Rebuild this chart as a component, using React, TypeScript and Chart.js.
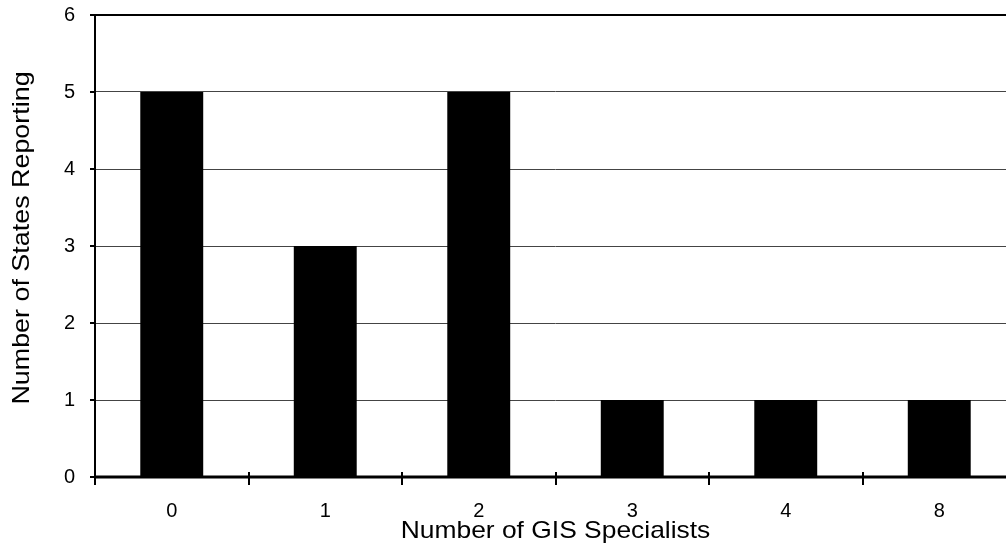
import React, { useEffect, useRef } from "react";
import { Chart, registerables } from "chart.js";

Chart.register(...registerables);

const categories = ["0", "1", "2", "3", "4", "8"];
const statesReporting = [5, 3, 5, 1, 1, 1];
const yTicks = [0, 1, 2, 3, 4, 5, 6];
const xTitle = "Number of GIS Specialists";
const yTitle = "Number of States Reporting";

const FONT = "'Liberation Sans', Arial, sans-serif";

const framePlugin = {
  id: "frame",
  afterDraw(chart: any) {
    const { ctx, chartArea, scales } = chart;
    const x = scales.x;
    const y = scales.y;
    ctx.save();
    ctx.strokeStyle = "#000";
    // top border
    ctx.lineWidth = 2;
    ctx.beginPath();
    ctx.moveTo(chartArea.left, chartArea.top);
    ctx.lineTo(chartArea.right, chartArea.top);
    ctx.stroke();
    // y axis line (extends below)
    ctx.beginPath();
    ctx.moveTo(chartArea.left, chartArea.top - 1);
    ctx.lineTo(chartArea.left, chartArea.bottom + 8);
    ctx.stroke();
    // x axis line
    ctx.lineWidth = 3;
    ctx.beginPath();
    ctx.moveTo(chartArea.left, chartArea.bottom);
    ctx.lineTo(chartArea.right, chartArea.bottom);
    ctx.stroke();
    // x ticks at category boundaries, crossing axis
    ctx.lineWidth = 2;
    const n = categories.length;
    const step = (chartArea.right - chartArea.left) / n;
    for (let i = 1; i <= n; i++) {
      const px = Math.round(x.getPixelForValue(i - 1) + step / 2);
      ctx.beginPath();
      ctx.moveTo(px, chartArea.bottom - 5);
      ctx.lineTo(px, chartArea.bottom + 8);
      ctx.stroke();
    }
    // y ticks outward
    for (const v of yTicks) {
      const py = y.getPixelForValue(v);
      ctx.beginPath();
      ctx.moveTo(chartArea.left - 5, py);
      ctx.lineTo(chartArea.left, py);
      ctx.stroke();
    }
    // titles
    ctx.fillStyle = "#000";
    ctx.font = `24px ${FONT}`;
    ctx.textAlign = "center";
    ctx.textBaseline = "middle";
    ctx.save();
    ctx.translate((chartArea.left + chartArea.right) / 2, 531);
    ctx.scale(1.1, 1);
    ctx.fillText(xTitle, 0, 0);
    ctx.restore();
    ctx.translate(22, 238);
    ctx.rotate(-Math.PI / 2);
    ctx.scale(1.12, 1);
    ctx.fillText(yTitle, 0, 0);
    ctx.restore();
  },
};

export default function App() {
  const ref = useRef<HTMLCanvasElement>(null);
  useEffect(() => {
    document.body.style.margin = "0";
    document.body.style.overflow = "hidden";
    const chart = new Chart(ref.current!, {
      type: "bar",
      data: {
        labels: categories,
        datasets: [
          {
            data: statesReporting,
            backgroundColor: "#000",
            borderWidth: 0,
            barPercentage: 0.41,
            categoryPercentage: 1,
          },
        ],
      },
      options: {
        animation: false,
        responsive: false,
        maintainAspectRatio: false,
        layout: { padding: { top: 15, right: 10, left: 0, bottom: 0 } },
        plugins: { legend: { display: false }, tooltip: { enabled: false } },
        scales: {
          x: {
            grid: { display: false },
            border: { display: false },
            ticks: {
              color: "#000",
              font: { family: FONT, size: 20 },
              padding: 14,
            },
            afterFit: (s: any) => {
              s.height = 77;
              s.paddingLeft = 0;
              s.paddingRight = 0;
            },
          },
          y: {
            min: 0,
            max: 6,
            grid: {
              color: (c: any) => (c.tick && (c.tick.value === 0 || c.tick.value === 6) ? "rgba(0,0,0,0)" : "#444"),
              lineWidth: 1,
              drawTicks: false,
            },
            border: { display: false },
            ticks: {
              stepSize: 1,
              color: "#000",
              font: { family: FONT, size: 20 },
              padding: 20,
            },
            afterFit: (s: any) => {
              s.width = 95;
              s.paddingTop = 0;
              s.paddingBottom = 0;
            },
          },
        },
      },
      plugins: [framePlugin],
    });
    return () => chart.destroy();
  }, []);
  return (
    <div style={{ position: "absolute", left: 0, top: 0, width: 1006, height: 554, overflow: "hidden", background: "#fff" }}>
      <canvas ref={ref} width={1026} height={554} style={{ width: 1026, height: 554, display: "block" }} />
    </div>
  );
}
